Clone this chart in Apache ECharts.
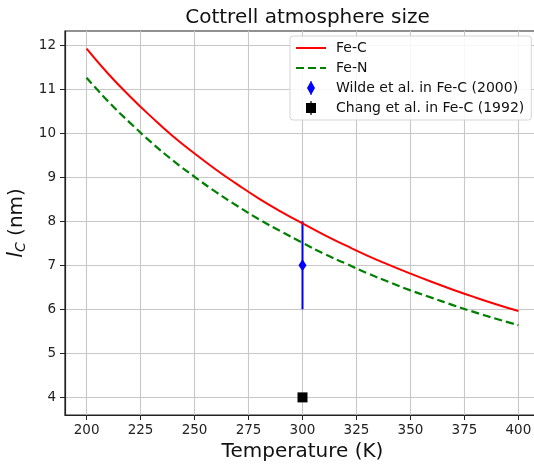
<!DOCTYPE html>
<html>
<head>
<meta charset="utf-8">
<script src="https://cdn.jsdelivr.net/npm/echarts@6/dist/echarts.min.js"></script>
<style>html,body{margin:0;padding:0;background:#fff}#c{width:534px;height:468px}</style>
</head>
<body>
<div id="c"></div>
<script>
// ---- data ----
var temps = [200,210,220,230,240,250,260,270,280,290,300,310,320,330,340,350,360,370,380,390,400];
var feC   = [11.92,11.35,10.84,10.37,9.93,9.54,9.17,8.83,8.51,8.22,7.95,7.69,7.45,7.22,7.01,6.81,6.62,6.44,6.27,6.11,5.96];
var feN   = [11.26,10.72,10.24,9.79,9.38,9.01,8.66,8.34,8.04,7.77,7.51,7.26,7.04,6.82,6.62,6.43,6.26,6.09,5.93,5.78,5.64];
var wildeT = [300], wildeL = [7.0], wildeErr = [1.0];
var changT = [300], changL = [4.0], changErr = [0.0];
var xTicks = [200,225,250,275,300,325,350,375,400];
var yTicks = [4,5,6,7,8,9,10,11,12];
var names = ['Fe-C','Fe-N','Wilde et al. in Fe-C (2000)','Chang et al. in Fe-C (1992)'];

var FONT = 'DejaVu Sans';
function zip(a,b){return a.map(function(v,i){return [v,b[i]];});}
function errData(t,l,e){return t.map(function(v,i){return [v,l[i],e[i]];});}

function errRender(shape){
  return function(params, api){
    var x = api.value(0), y = api.value(1), e = api.value(2);
    var p = api.coord([x,y]), lo = api.coord([x,y-e]), hi = api.coord([x,y+e]);
    var color = api.visual('color');
    var children = [];
    if (e > 0) children.push({type:'line', shape:{x1:lo[0],y1:lo[1],x2:hi[0],y2:hi[1]}, style:{stroke:color,lineWidth:2}});
    if (shape === 'diamond') {
      children.push({type:'polygon', shape:{points:[[p[0],p[1]-6],[p[0]+4,p[1]],[p[0],p[1]+6],[p[0]-4,p[1]]]}, style:{fill:color}});
    } else {
      children.push({type:'rect', shape:{x:p[0]-5,y:p[1]-5,width:10,height:10}, style:{fill:color}});
    }
    return {type:'group', children:children};
  };
}

var chart = echarts.init(document.getElementById('c'), null, {renderer:'canvas'});
chart.setOption({
  animation:false,
  backgroundColor:'#fff',
  textStyle:{fontFamily:FONT},
  title:{text:'Cottrell atmosphere size', left:302.5, textAlign:'center', top:3,
    textStyle:{fontFamily:FONT,fontSize:20,fontWeight:'normal',color:'#111'}},
  grid:{left:65, top:31, width:475, height:384, show:true, borderColor:'#222', borderWidth:1.2,
    backgroundColor:'transparent', outerBoundsMode:'none', containLabel:false},
  legend:{
    orient:'vertical', left:290, top:36, padding:[5,7,5,5], itemGap:6, itemWidth:30, itemHeight:14,
    backgroundColor:'rgba(255,255,255,0.85)', borderColor:'#d5d5d5', borderWidth:1, borderRadius:3,
    textStyle:{fontFamily:FONT,fontSize:14,color:'#111',padding:[0,0,0,5]},
    data:[
      {name:names[0], itemStyle:{opacity:0}},
      {name:names[1], itemStyle:{opacity:0}},
      {name:names[2], icon:'path://M4.4,0 L5.6,0 L5.6,1 L9,7 L5.6,13 L5.6,14 L4.4,14 L4.4,13 L1,7 L4.4,1 Z'},
      {name:names[3], icon:'path://M4.4,0 L5.6,0 L5.6,2 L10,2 L10,12 L5.6,12 L5.6,14 L4.4,14 L4.4,12 L0,12 L0,2 L4.4,2 Z'}
    ]
  },
  xAxis:{
    type:'value', min:190, max:410,
    name:'Temperature (K)', nameLocation:'middle', nameGap:26,
    nameTextStyle:{fontFamily:FONT,fontSize:20,color:'#111'},
    axisLine:{show:true,onZero:false,lineStyle:{color:'#222',width:1.2}},
    axisTick:{show:true,length:5,lineStyle:{color:'#222'},customValues:xTicks},
    axisLabel:{fontFamily:FONT,fontSize:13.5,color:'#222',margin:8,customValues:xTicks},
    splitLine:{show:true,lineStyle:{color:'#c8c8c8',width:1.1}}
  },
  yAxis:{
    type:'value', min:3.6, max:12.32,
    name:'{i|l}{s|C}{n| (nm)}', nameLocation:'middle', nameGap:36, nameRotate:90,
    nameTextStyle:{fontFamily:FONT,fontSize:20,color:'#111',
      rich:{i:{fontFamily:FONT,fontSize:21,fontStyle:'italic',color:'#111'},
            s:{fontFamily:FONT,fontSize:14,fontStyle:'italic',color:'#111',verticalAlign:'bottom',padding:[8,0,0,0]},
            n:{fontFamily:FONT,fontSize:20,color:'#111'}}},
    axisLine:{show:true,onZero:false,lineStyle:{color:'#222',width:1.2}},
    axisTick:{show:true,length:5,lineStyle:{color:'#222'},customValues:yTicks},
    axisLabel:{fontFamily:FONT,fontSize:13.5,color:'#222',margin:9,customValues:yTicks},
    splitLine:{show:true,lineStyle:{color:'#c8c8c8',width:1.1}}
  },
  series:[
    {name:names[0], type:'line', data:zip(temps,feC), symbol:'none', smooth:true,
      lineStyle:{color:'#ff0000',width:2}, itemStyle:{color:'#ff0000'}},
    {name:names[1], type:'line', data:zip(temps,feN), symbol:'none', smooth:true,
      lineStyle:{color:'#008000',width:2.2,type:[8,4]}, itemStyle:{color:'#008000'}},
    {name:names[2], type:'custom', data:errData(wildeT,wildeL,wildeErr), renderItem:errRender('diamond'),
      itemStyle:{color:'#0000ff'}, encode:{x:0,y:1}},
    {name:names[3], type:'custom', data:errData(changT,changL,changErr), renderItem:errRender('square'),
      itemStyle:{color:'#000000'}, encode:{x:0,y:1}}
  ]
});
</script>
</body>
</html>
